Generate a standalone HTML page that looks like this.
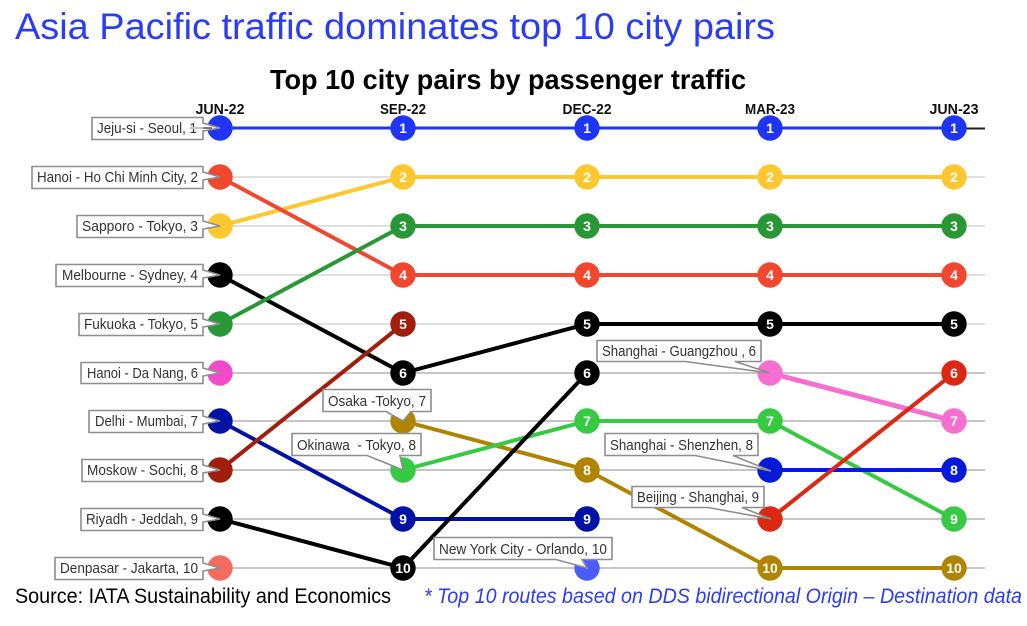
<!DOCTYPE html>
<html><head><meta charset="utf-8"><style>
html,body{margin:0;padding:0;background:#fff;width:1027px;height:626px;overflow:hidden}
svg{display:block;font-family:"Liberation Sans",sans-serif}
circle{r:12.7px}
.s{fill:none;stroke-width:4}
.n{fill:#fff;font-weight:bold;font-size:14px;text-anchor:middle}
.h{fill:#111;font-weight:bold;font-size:15px;text-anchor:middle}
.b{fill:#fff;stroke:#8e8e8e;stroke-width:1.6}
.l{fill:#333;font-size:15px}
</style></head><body>
<svg width="1027" height="626" viewBox="0 0 1027 626" xmlns="http://www.w3.org/2000/svg">
<text x="15" y="39" font-size="37" fill="#2a3cf5" textLength="760" lengthAdjust="spacingAndGlyphs">Asia Pacific traffic dominates top 10 city pairs</text>
<text x="270" y="89" font-size="28" font-weight="bold" fill="#000" textLength="476" lengthAdjust="spacingAndGlyphs">Top 10 city pairs by passenger traffic</text>
<text class="h" x="220" y="114" textLength="49" lengthAdjust="spacingAndGlyphs">JUN-22</text>
<text class="h" x="403" y="114" textLength="46" lengthAdjust="spacingAndGlyphs">SEP-22</text>
<text class="h" x="587" y="114" textLength="49" lengthAdjust="spacingAndGlyphs">DEC-22</text>
<text class="h" x="770" y="114" textLength="50" lengthAdjust="spacingAndGlyphs">MAR-23</text>
<text class="h" x="954" y="114" textLength="49" lengthAdjust="spacingAndGlyphs">JUN-23</text>

<path stroke="#e0e0e0" stroke-width="2" d="M220 177H985M220 226H985M220 275H985M220 324H985"/>
<path stroke="#c6c6c6" stroke-width="2" d="M220 373H985M220 421H985M220 470H985M220 519H985M220 568H985"/>
<path d="M950 128.500H985" stroke="#222" stroke-width="2"/>

<path class="s" style="stroke-width:3" stroke="#1f35f5" d="M220 128H954"/>
<path class="s" stroke="#fdc730" d="M220 226L403 177H954"/>
<path class="s" stroke="#f2472f" d="M220 177L403 275H954"/>
<path class="s" stroke="#000" d="M220 275L403 373L587 324H954"/>
<path class="s" stroke="#2a9736" d="M220 324L403 226H954"/>
<path class="s" stroke="#0212a5" d="M220 421L403 519H587"/>
<path class="s" stroke="#a01e0c" d="M220 470L403 324"/>
<path class="s" stroke="#b08300" d="M403 421L587 470L770 568H954"/>
<path class="s" stroke="#36c942" d="M403 470L587 421H770L954 519"/>
<path class="s" stroke="#000" d="M220 519L403 568L587 373"/>
<path class="s" style="stroke-width:5" stroke="#f56ed0" d="M770 373L954 421"/>
<path class="s" stroke="#0519d8" d="M770 470H954"/>
<path class="s" stroke="#dc2712" d="M770 519L954 373"/>

<g>
<circle cx="220" cy="128" fill="#1f35f5"/><circle cx="220" cy="177" fill="#f2472f"/><circle cx="220" cy="226" fill="#fdc730"/><circle cx="220" cy="275" fill="#000"/><circle cx="220" cy="324" fill="#2a9736"/><circle cx="220" cy="373" fill="#f24ac8"/><circle cx="220" cy="421" fill="#0212a5"/><circle cx="220" cy="470" fill="#a01e0c"/><circle cx="220" cy="519" fill="#000"/><circle cx="220" cy="568" fill="#f56b5e"/>

<circle cx="403" cy="128" fill="#1f35f5"/><circle cx="403" cy="177" fill="#fdc730"/><circle cx="403" cy="226" fill="#2a9736"/><circle cx="403" cy="275" fill="#f2472f"/><circle cx="403" cy="324" fill="#a01e0c"/><circle cx="403" cy="373" fill="#000"/><circle cx="403" cy="421" fill="#b08300"/><circle cx="403" cy="470" fill="#36c942"/><circle cx="403" cy="519" fill="#0212a5"/><circle cx="403" cy="568" fill="#000"/>

<circle cx="587" cy="128" fill="#1f35f5"/><circle cx="587" cy="177" fill="#fdc730"/><circle cx="587" cy="226" fill="#2a9736"/><circle cx="587" cy="275" fill="#f2472f"/><circle cx="587" cy="324" fill="#000"/><circle cx="587" cy="373" fill="#000"/><circle cx="587" cy="421" fill="#36c942"/><circle cx="587" cy="470" fill="#b08300"/><circle cx="587" cy="519" fill="#0212a5"/><circle cx="587" cy="568" fill="#4a5cff"/>

<circle cx="770" cy="128" fill="#1f35f5"/><circle cx="770" cy="177" fill="#fdc730"/><circle cx="770" cy="226" fill="#2a9736"/><circle cx="770" cy="275" fill="#f2472f"/><circle cx="770" cy="324" fill="#000"/><circle cx="770" cy="373" fill="#f56ed0"/><circle cx="770" cy="421" fill="#36c942"/><circle cx="770" cy="470" fill="#0519d8"/><circle cx="770" cy="519" fill="#dc2712"/><circle cx="770" cy="568" fill="#b08300"/>

<circle cx="954" cy="128" fill="#1f35f5"/><circle cx="954" cy="177" fill="#fdc730"/><circle cx="954" cy="226" fill="#2a9736"/><circle cx="954" cy="275" fill="#f2472f"/><circle cx="954" cy="324" fill="#000"/><circle cx="954" cy="373" fill="#dc2712"/><circle cx="954" cy="421" fill="#f56ed0"/><circle cx="954" cy="470" fill="#0519d8"/><circle cx="954" cy="519" fill="#36c942"/><circle cx="954" cy="568" fill="#b08300"/>
</g>

<text class="n" x="403" y="133">1</text><text class="n" x="403" y="182">2</text><text class="n" x="403" y="231">3</text><text class="n" x="403" y="280">4</text><text class="n" x="403" y="329">5</text><text class="n" x="403" y="378">6</text><text class="n" x="403" y="524">9</text><text class="n" x="403" y="573">10</text>
<text class="n" x="587" y="133">1</text><text class="n" x="587" y="182">2</text><text class="n" x="587" y="231">3</text><text class="n" x="587" y="280">4</text><text class="n" x="587" y="329">5</text><text class="n" x="587" y="378">6</text><text class="n" x="587" y="426">7</text><text class="n" x="587" y="475">8</text><text class="n" x="587" y="524">9</text>
<text class="n" x="770" y="133">1</text><text class="n" x="770" y="182">2</text><text class="n" x="770" y="231">3</text><text class="n" x="770" y="280">4</text><text class="n" x="770" y="329">5</text><text class="n" x="770" y="426">7</text><text class="n" x="770" y="573">10</text>
<text class="n" x="954" y="133">1</text><text class="n" x="954" y="182">2</text><text class="n" x="954" y="231">3</text><text class="n" x="954" y="280">4</text><text class="n" x="954" y="329">5</text><text class="n" x="954" y="378">6</text><text class="n" x="954" y="426">7</text><text class="n" x="954" y="475">8</text><text class="n" x="954" y="524">9</text><text class="n" x="954" y="573">10</text>

<!-- left callouts -->
<path class="b" d="M92 117.500H203V123L220 128L203 131V139.500H92Z"/><text class="l" x="97" y="133" textLength="100" lengthAdjust="spacingAndGlyphs">Jeju-si - Seoul, 1</text>
<path d="M190 128H203" stroke="#c6c6c6" stroke-width="2"/><path d="M203 128H212" stroke="#555" stroke-width="1.500"/>
<path class="b" d="M32 166.500H203V172L220 177L203 180V188.500H32Z"/><text class="l" x="37" y="182" textLength="161" lengthAdjust="spacingAndGlyphs">Hanoi - Ho Chi Minh City, 2</text>
<path class="b" d="M77 215.500H203V221L220 226L203 229V237.500H77Z"/><text class="l" x="82" y="231" textLength="116" lengthAdjust="spacingAndGlyphs">Sapporo - Tokyo, 3</text>
<path class="b" d="M56 264.500H203V270L220 275L203 278V286.500H56Z"/><text class="l" x="62" y="280" textLength="136" lengthAdjust="spacingAndGlyphs">Melbourne - Sydney, 4</text>
<path class="b" d="M79 313.500H203V319L220 324L203 327V335.500H79Z"/><text class="l" x="84" y="329" textLength="114" lengthAdjust="spacingAndGlyphs">Fukuoka - Tokyo, 5</text>
<path class="b" d="M81 362.500H203V368L220 373L203 376V383.500H81Z"/><text class="l" x="87" y="378" textLength="111" lengthAdjust="spacingAndGlyphs">Hanoi - Da Nang, 6</text>
<path class="b" d="M89 410.500H203V416L220 421L203 424V432.500H89Z"/><text class="l" x="95" y="426" textLength="103" lengthAdjust="spacingAndGlyphs">Delhi - Mumbai, 7</text>
<path class="b" d="M82 459.500H203V465L220 470L203 473V481.500H82Z"/><text class="l" x="87" y="475" textLength="111" lengthAdjust="spacingAndGlyphs">Moskow - Sochi, 8</text>
<path class="b" d="M81 508.500H203V514L220 519L203 522V530.500H81Z"/><text class="l" x="86" y="524" textLength="112" lengthAdjust="spacingAndGlyphs">Riyadh - Jeddah, 9</text>
<path class="b" d="M55 557.500H203V563L220 568L203 571V579.500H55Z"/><text class="l" x="60" y="573" textLength="138" lengthAdjust="spacingAndGlyphs">Denpasar - Jakarta, 10</text>

<!-- chart callouts -->
<path class="b" d="M323 389.500H431V411.500H411L403 421L386 411.500H323Z"/><text class="l" x="328" y="406" textLength="98" lengthAdjust="spacingAndGlyphs">Osaka -Tokyo, 7</text>
<path class="b" d="M292 433.500H421V455.500H400L403 470L367 455.500H292Z"/><text class="l" x="297" y="450" textLength="119" lengthAdjust="spacingAndGlyphs">Okinawa&#160; - Tokyo, 8</text>
<path class="b" d="M597 340.500H761V361.500H735L770 373L685 361.500H597Z"/><text class="l" x="602" y="356" textLength="154" lengthAdjust="spacingAndGlyphs">Shanghai - Guangzhou , 6</text>
<path class="b" d="M605 433.500H758V455.500H733L771 471L695 455.500H605Z"/><text class="l" x="610" y="450" textLength="143" lengthAdjust="spacingAndGlyphs">Shanghai - Shenzhen, 8</text>
<path class="b" d="M632 486.500H764V507.500H742L771 519L708 507.500H632Z"/><text class="l" x="637" y="502" textLength="122" lengthAdjust="spacingAndGlyphs">Beijing - Shanghai, 9</text>
<path class="b" d="M434 537.500H612V559.500H582L587 568L556 559.500H434Z"/><text class="l" x="439" y="554" textLength="168" lengthAdjust="spacingAndGlyphs">New York City - Orlando, 10</text>

<text x="15" y="603" font-size="21" fill="#000" textLength="376" lengthAdjust="spacingAndGlyphs">Source: IATA Sustainability and Economics</text>
<text x="424" y="603" font-size="21" font-style="italic" fill="#2a3cf5" textLength="598" lengthAdjust="spacingAndGlyphs">* Top 10 routes based on DDS bidirectional Origin – Destination data</text>
</svg>
</body></html>
